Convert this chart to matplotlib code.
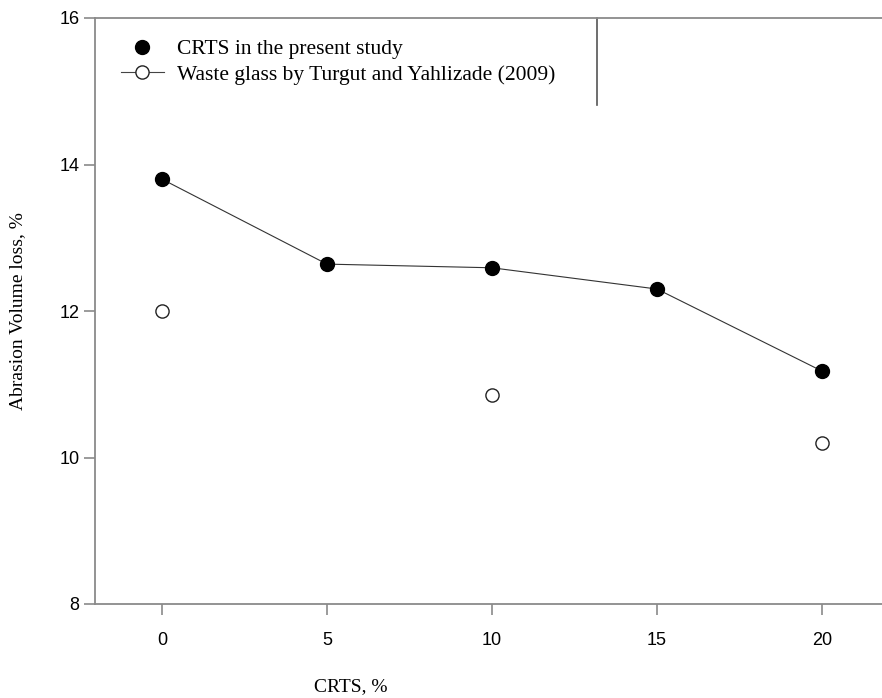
import matplotlib
matplotlib.use('Agg')
import matplotlib.pyplot as plt
from matplotlib.lines import Line2D

# CRTS in the present study
crts_x = [0, 5, 10, 15, 20]
crts_loss = [13.80, 12.64, 12.59, 12.30, 11.18]

# waste glass by Turgut and Yahlizade (2009)
glass_x = [0, 10, 20]
glass_loss = [12.00, 10.85, 10.20]

x_ticks = [0, 5, 10, 15, 20]
y_ticks = [8, 10, 12, 14, 16]
legend_labels = ['CRTS in the present study',
                 'Waste glass by Turgut and Yahlizade (2009)']

serif = ['Liberation Serif', 'DejaVu Serif']
sans = ['Liberation Sans', 'DejaVu Sans']
spine_col = '#8a8a8a'


def main():
    fig = plt.figure(figsize=(8.82, 6.98), dpi=100)
    ax = fig.add_axes([95 / 882, 94 / 698, 787 / 882, 586 / 698])

    # data
    ax.plot(crts_x, crts_loss, '-', color='#333333', lw=0.8, zorder=2)
    ax.plot(crts_x, crts_loss, 'o', color='black', ms=10, zorder=3)
    ax.plot(glass_x, glass_loss, 'o', mfc='white', mec='#222222',
            mew=1.0, ms=9.5, ls='none', zorder=3)

    ax.set_xlim(-2.03, 21.82)
    ax.set_ylim(8, 16)
    ax.set_xticks(x_ticks)
    ax.set_yticks(y_ticks)
    ax.tick_params(direction='out', length=8, width=1.2, color=spine_col,
                   labelsize=13)
    ax.tick_params(axis='x', pad=12)
    ax.tick_params(axis='y', pad=3)
    for lab in ax.get_xticklabels() + ax.get_yticklabels():
        lab.set_family(sans)

    ax.spines['right'].set_visible(False)
    for side in ['left', 'top', 'bottom']:
        ax.spines[side].set_color(spine_col)
        ax.spines[side].set_linewidth(1.3)

    ax.set_xlabel('CRTS, %', family=serif, fontsize=14)
    ax.set_ylabel('Abrasion Volume loss, %', family=serif, fontsize=14)
    ax.xaxis.set_label_coords(0.325, -0.126)
    ax.yaxis.set_label_coords(-0.0877, 0.5)

    # legend (only a right edge line is drawn, the rest is the spines)
    handles = [
        Line2D([], [], marker='o', color='black', ls='none', ms=10),
        Line2D([], [], marker='o', mfc='white', mec='#222222', color='#444444',
               lw=0.8, ms=9.5),
    ]
    ax.legend(handles, legend_labels, loc='upper left',
              bbox_to_anchor=(0.0, 1.008), frameon=False,
              prop={'family': serif, 'size': 15.5}, handlelength=2.0,
              handletextpad=0.6, labelspacing=0.25, borderaxespad=0.8)
    ax.plot([502 / 787, 502 / 787], [(604 - 105) / 586, 1.0],
            transform=ax.transAxes, color='#555555', lw=1.2, clip_on=False)

    fig.savefig('out.png', dpi=100)


if __name__ == '__main__':
    main()
